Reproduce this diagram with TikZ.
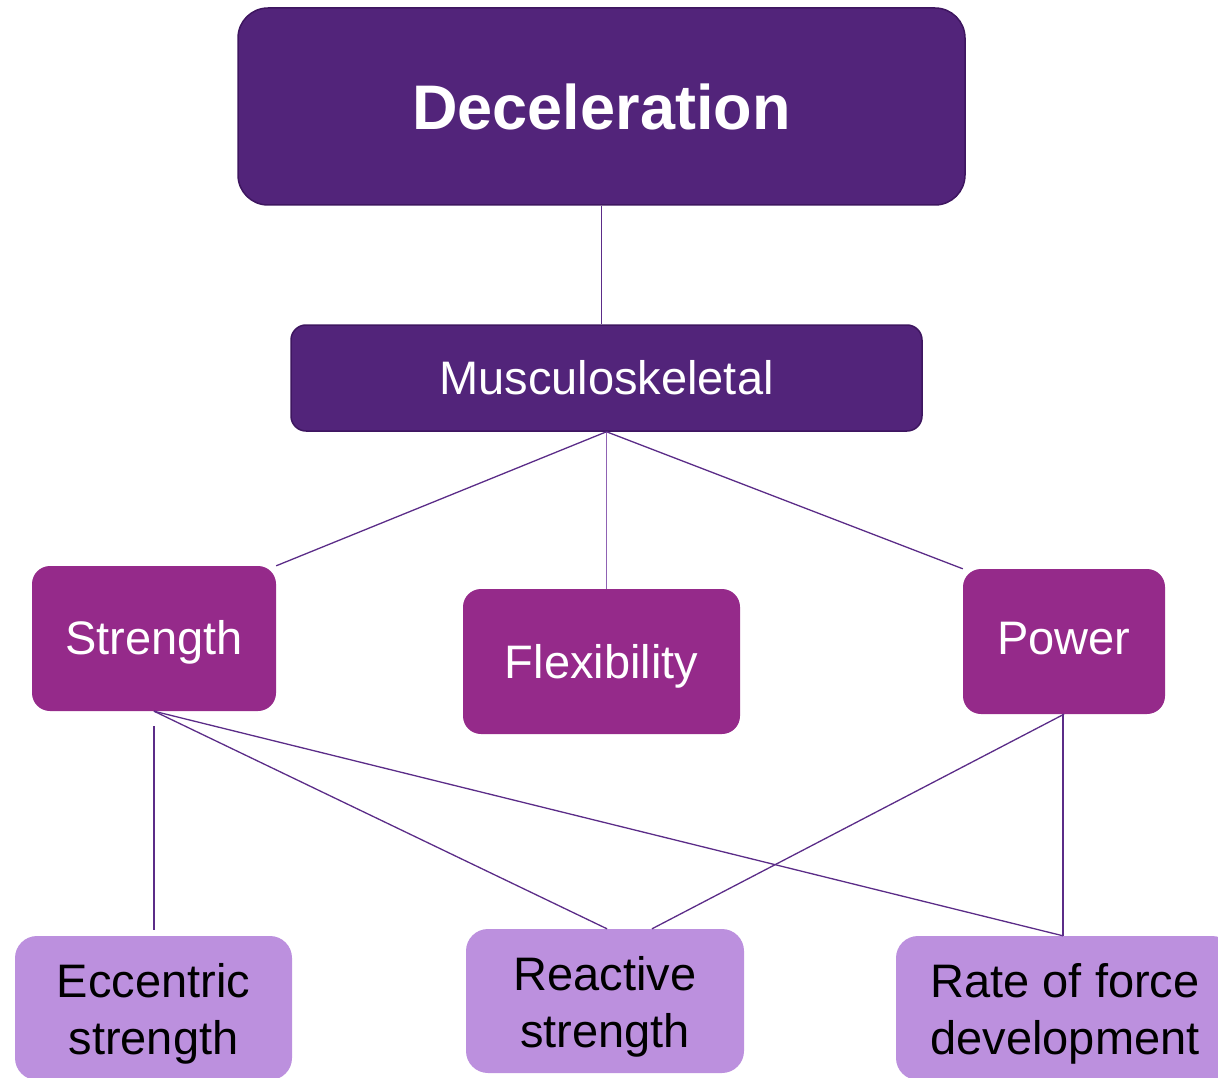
\documentclass[tikz,border=0pt]{standalone}
\usepackage{fontspec}
\setmainfont{Liberation Sans}
\usetikzlibrary{calc}
\definecolor{darkp}{HTML}{52247A}
\definecolor{darkb}{HTML}{3E1660}
\definecolor{midp}{HTML}{952A8A}
\definecolor{lightp}{HTML}{BC90DE}
\definecolor{linec}{HTML}{5B2C88}
\definecolor{linel}{HTML}{8F62B3}
\newcommand{\lowtxt}[2]{\raisebox{-#1pt}[\height][\depth]{\begin{tabular}{@{}c@{}}#2\end{tabular}}}
\tikzset{
  topbox/.style={fill=darkp, draw=darkb, line width=1.5pt, text=white, rounded corners=30pt, inner sep=0pt},
  mainbox/.style={fill=darkp, draw=darkb, line width=1.5pt, text=white, rounded corners=15pt, inner sep=0pt},
  midbox/.style={fill=midp, text=white, rounded corners=18pt, inner sep=0pt},
  lowbox/.style={fill=lightp, text=black, rounded corners=22pt, inner sep=0pt},
  conn/.style={draw=linec, line width=1.3pt},
  connl/.style={draw=linel, line width=1.8pt},
  bigfont/.style={font=\fontsize{63}{70}\selectfont\bfseries},
  medfont/.style={font=\fontsize{47}{57}\selectfont}
}
\begin{document}
\begin{tikzpicture}[x=1pt,y=-1pt]
\useasboundingbox (0,0) rectangle (1218,1078);
\clip (0,0) rectangle (1218,1078);
\node[topbox, bigfont, minimum width=727pt, minimum height=197pt] (dec) at (601.5,106.5) {Deceleration};
\node[mainbox, medfont, minimum width=631pt, minimum height=106pt] (mus) at (606.5,378) {Musculoskeletal};
\node[midbox, medfont, minimum width=244pt, minimum height=145pt] (str) at (154,638.5) {\lowtxt{5}{Strength}};
\node[midbox, medfont, minimum width=277pt, minimum height=145pt] (flx) at (601.5,661.5) {\lowtxt{6}{Flexibility}};
\node[midbox, medfont, minimum width=202pt, minimum height=145pt] (pow) at (1064,641.5) {\lowtxt{2}{Power}};
\node[lowbox, medfont, minimum width=277pt, minimum height=144pt] (ecc) at (153.5,1008) {\lowtxt{7}{Eccentric\\strength}};
\node[lowbox, medfont, minimum width=278pt, minimum height=144pt] (rea) at (605,1001) {\lowtxt{7}{Reactive\\strength}};
\node[lowbox, medfont, minimum width=338pt, minimum height=144pt] (rfd) at (1065,1008) {\lowtxt{7}{Rate of force\\development}};
\draw[conn] (dec.south) -- (dec.south |- mus.north);
\draw[conn] (mus.south) -- (str.north east);
\draw[connl] (mus.south) -- (mus.south |- flx.north);
\draw[conn] (mus.south) -- (pow.north west);
\draw[conn, shorten <=15pt, shorten >=6pt] (str.south) -- (str.south |- ecc.north);
\draw[conn] (str.south) -- ($(rea.north)+(2,0)$);
\draw[conn] (str.south) -- ($(rfd.north)+(-2,0)$);
\draw[conn] (pow.south) -- ($(rea.north)+(47,0)$);
\draw[conn] ($(pow.south)+(-1,0)$) -- ($(rfd.north)+(-2,0)$);
\end{tikzpicture}
\end{document}
